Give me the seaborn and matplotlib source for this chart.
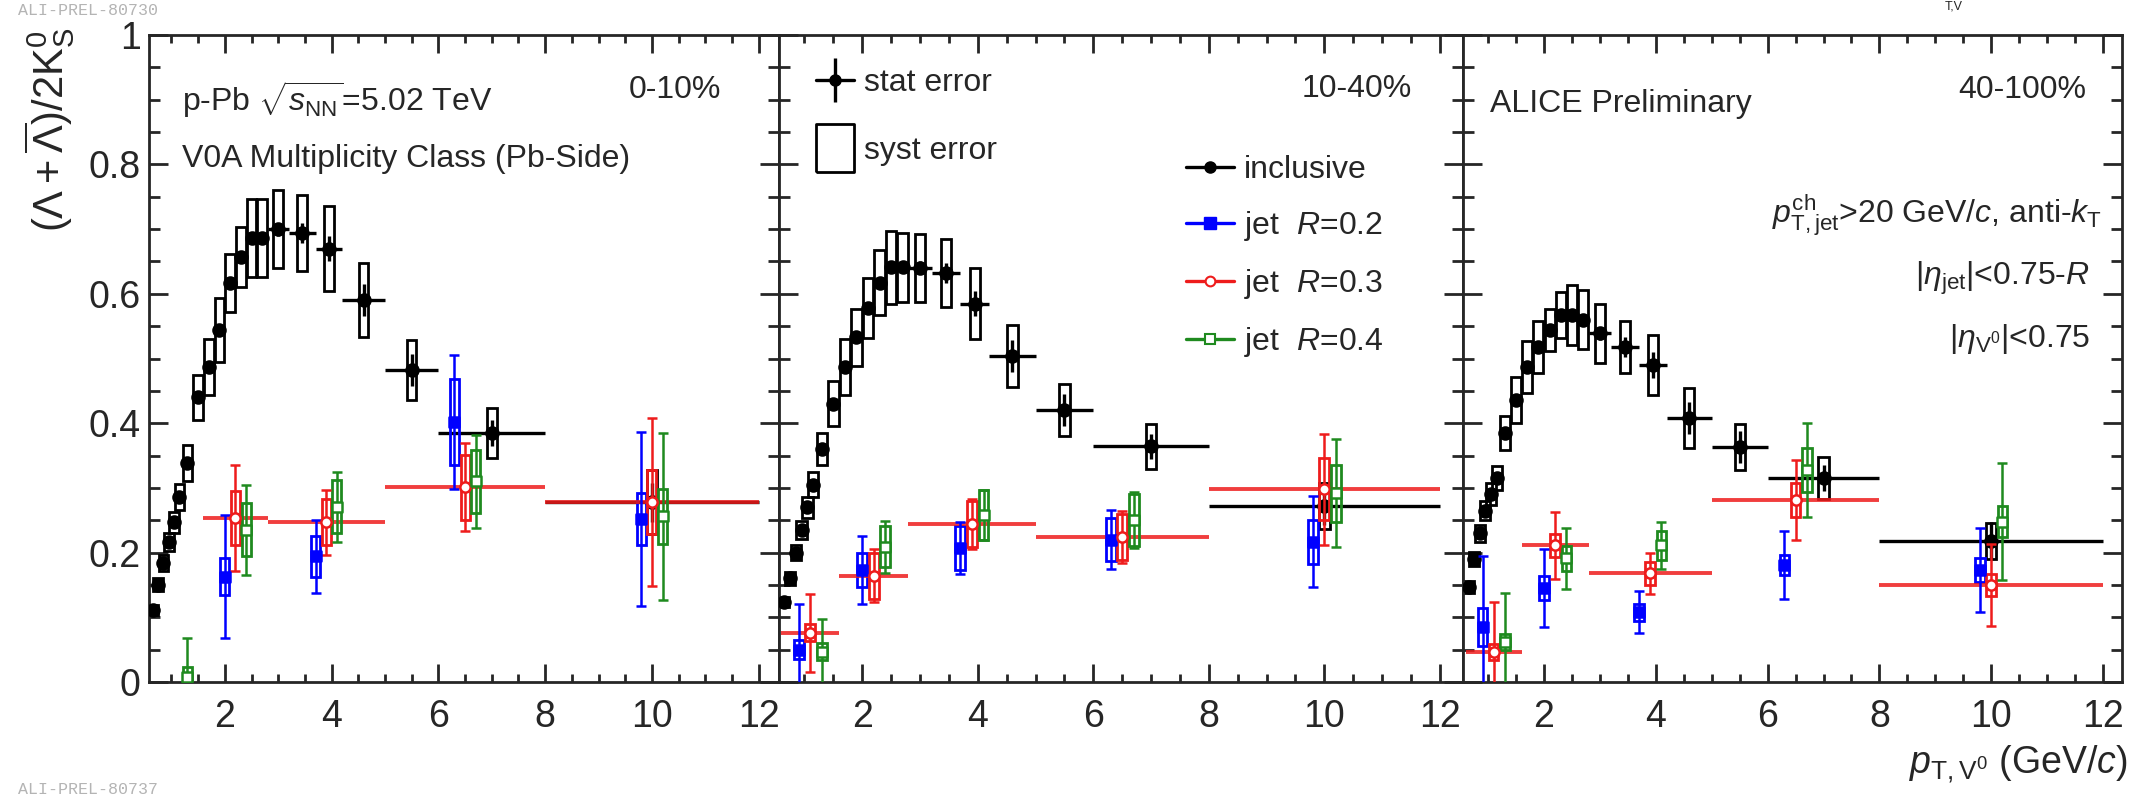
import numpy as np
import pandas as pd
import matplotlib
matplotlib.use('Agg')
import matplotlib.pyplot as plt
import seaborn as sns
from matplotlib.lines import Line2D
from matplotlib.legend_handler import HandlerTuple
from matplotlib.ticker import MultipleLocator, FuncFormatter

# ---- inclusive Lambda/K0s ratio, one list per multiplicity class ----
incl_pt = [0.65, 0.75, 0.85, 0.95, 1.05, 1.15, 1.3, 1.5, 1.7, 1.9, 2.1,
           2.3, 2.5, 2.7, 3.0, 3.45, 3.95, 4.6, 5.5, 7.0, 10.0]
incl_dpt = [0.05, 0.05, 0.05, 0.05, 0.05, 0.05, 0.1, 0.1, 0.1, 0.1, 0.1,
            0.1, 0.1, 0.1, 0.2, 0.25, 0.25, 0.4, 0.5, 1.0, 2.0]

incl_0_10 = [0.111, 0.150, 0.184, 0.216, 0.247, 0.286, 0.338, 0.440, 0.487, 0.544, 0.617,
             0.657, 0.686, 0.686, 0.700, 0.694, 0.670, 0.590, 0.482, 0.385, 0.278]
incl_0_10_stat = [0.003, 0.003, 0.003, 0.003, 0.003, 0.004, 0.004, 0.005, 0.005, 0.006, 0.006,
                  0.007, 0.007, 0.008, 0.010, 0.015, 0.020, 0.025, 0.025, 0.020, 0.030]
incl_0_10_syst = [0.008, 0.010, 0.012, 0.014, 0.016, 0.020, 0.028, 0.035, 0.043, 0.050, 0.045,
                  0.046, 0.060, 0.060, 0.060, 0.059, 0.066, 0.057, 0.046, 0.039, 0.050]

incl_10_40 = [0.124, 0.160, 0.200, 0.235, 0.270, 0.305, 0.360, 0.430, 0.487, 0.533, 0.578,
              0.617, 0.641, 0.641, 0.640, 0.632, 0.585, 0.504, 0.420, 0.364, 0.272]
incl_10_40_stat = [0.003, 0.003, 0.003, 0.003, 0.003, 0.004, 0.004, 0.005, 0.005, 0.006, 0.006,
                   0.007, 0.007, 0.008, 0.010, 0.015, 0.020, 0.025, 0.025, 0.020, 0.030]
incl_10_40_syst = [0.008, 0.010, 0.012, 0.014, 0.016, 0.019, 0.025, 0.035, 0.043, 0.044, 0.046,
                   0.050, 0.056, 0.053, 0.052, 0.052, 0.055, 0.048, 0.040, 0.035, 0.035]

incl_40_100 = [0.147, 0.190, 0.230, 0.265, 0.290, 0.315, 0.385, 0.436, 0.487, 0.518, 0.544,
               0.567, 0.567, 0.560, 0.539, 0.518, 0.490, 0.408, 0.363, 0.315, 0.218]
incl_40_100_stat = [0.003, 0.003, 0.003, 0.003, 0.003, 0.004, 0.004, 0.005, 0.005, 0.006, 0.006,
                    0.007, 0.007, 0.008, 0.010, 0.015, 0.020, 0.025, 0.025, 0.020, 0.030]
incl_40_100_syst = [0.009, 0.011, 0.013, 0.015, 0.017, 0.019, 0.026, 0.035, 0.040, 0.040, 0.032,
                    0.036, 0.046, 0.046, 0.046, 0.040, 0.046, 0.046, 0.036, 0.032, 0.028]

# ---- V0s in jets ----
jet_pt = [1.1, 2.2, 3.9, 6.5, 10.0]
jet_dpt = [0.5, 0.6, 1.1, 1.5, 2.0]
nan = np.nan

r02_0_10 = [nan, 0.163, 0.194, 0.402, 0.252]
r02_0_10_stat = [nan, 0.095, 0.056, 0.104, 0.135]
r02_0_10_syst = [nan, 0.029, 0.031, 0.067, 0.040]
r03_0_10 = [nan, 0.253, 0.247, 0.301, 0.278]
r03_0_10_stat = [nan, 0.082, 0.050, 0.068, 0.130]
r03_0_10_syst = [nan, 0.042, 0.036, 0.050, 0.049]
r04_0_10 = [0.008, 0.235, 0.271, 0.310, 0.256]
r04_0_10_stat = [0.060, 0.069, 0.054, 0.072, 0.129]
r04_0_10_syst = [0.015, 0.041, 0.041, 0.049, 0.042]

r02_10_40 = [0.050, 0.173, 0.207, 0.220, 0.217]
r02_10_40_stat = [0.070, 0.052, 0.040, 0.046, 0.070]
r02_10_40_syst = [0.015, 0.026, 0.034, 0.033, 0.034]
r03_10_40 = [0.076, 0.164, 0.244, 0.224, 0.298]
r03_10_40_stat = [0.060, 0.041, 0.039, 0.040, 0.086]
r03_10_40_syst = [0.013, 0.035, 0.036, 0.036, 0.048]
r04_10_40 = [0.047, 0.209, 0.258, 0.250, 0.292]
r04_10_40_stat = [0.050, 0.040, 0.038, 0.043, 0.083]
r04_10_40_syst = [0.013, 0.032, 0.039, 0.040, 0.044]

r02_40_100 = [0.085, 0.145, 0.108, 0.181, 0.173]
r02_40_100_stat = [0.110, 0.060, 0.033, 0.052, 0.065]
r02_40_100_syst = [0.030, 0.019, 0.013, 0.016, 0.018]
r03_40_100 = [0.046, 0.211, 0.168, 0.281, 0.150]
r03_40_100_stat = [0.077, 0.052, 0.032, 0.062, 0.063]
r03_40_100_syst = [0.012, 0.018, 0.018, 0.026, 0.017]
r04_40_100 = [0.062, 0.191, 0.211, 0.328, 0.248]
r04_40_100_stat = [0.075, 0.047, 0.037, 0.073, 0.090]
r04_40_100_syst = [0.012, 0.019, 0.023, 0.034, 0.024]

centralities = ['0-10%', '10-40%', '40-100%']

# ---- style ----
sns.set_style('ticks')
plt.rcParams['font.family'] = ['Liberation Sans', 'DejaVu Sans']
plt.rcParams['mathtext.fontset'] = 'custom'
plt.rcParams['mathtext.rm'] = 'Liberation Sans'
plt.rcParams['mathtext.it'] = 'Liberation Sans:italic'
plt.rcParams['mathtext.bf'] = 'Liberation Sans:bold'
plt.rcParams['mathtext.sf'] = 'Liberation Sans'

BLUE = '#0000ff'
RED = '#ee1c1c'
GREEN = '#1f8a1f'

W, H = 2132, 799
fig = plt.figure(figsize=(W / 100, H / 100), dpi=100)


def fx(px):
    return px / W


def fy(py):
    return 1 - py / H


# panel pixel extents (left, right) and common vertical extent
panel_px = [(149, 779), (779, 1463), (1463, 2122)]
top_px, bot_px = 35, 682
xlims = [(0.58, 12.38), (0.56, 12.40), (0.55, 12.34)]

incl_sets = [(incl_0_10, incl_0_10_stat, incl_0_10_syst),
             (incl_10_40, incl_10_40_stat, incl_10_40_syst),
             (incl_40_100, incl_40_100_stat, incl_40_100_syst)]
jet_sets = [
    {'0.2': (r02_0_10, r02_0_10_stat, r02_0_10_syst),
     '0.3': (r03_0_10, r03_0_10_stat, r03_0_10_syst),
     '0.4': (r04_0_10, r04_0_10_stat, r04_0_10_syst)},
    {'0.2': (r02_10_40, r02_10_40_stat, r02_10_40_syst),
     '0.3': (r03_10_40, r03_10_40_stat, r03_10_40_syst),
     '0.4': (r04_10_40, r04_10_40_stat, r04_10_40_syst)},
    {'0.2': (r02_40_100, r02_40_100_stat, r02_40_100_syst),
     '0.3': (r03_40_100, r03_40_100_stat, r03_40_100_syst),
     '0.4': (r04_40_100, r04_40_100_stat, r04_40_100_syst)},
]
jet_style = {'0.2': dict(color=BLUE, marker='s', fc=BLUE, shift=-0.2),
             '0.3': dict(color=RED, marker='o', fc='white', shift=0.0),
             '0.4': dict(color=GREEN, marker='s', fc='white', shift=0.2)}

axes = []
for i, (l, r) in enumerate(panel_px):
    ax = fig.add_axes([fx(l), 1 - bot_px / H, (r - l) / W, (bot_px - top_px) / H])
    axes.append(ax)
    vals, stat, syst = [np.array(a) for a in incl_sets[i]]
    pt = np.array(incl_pt)

    # inclusive: syst boxes, stat bars, markers
    ax.bar(pt, 2 * syst, bottom=vals - syst, width=0.18, fill=False,
           edgecolor='black', linewidth=2.0, zorder=2)
    ax.errorbar(pt, vals, xerr=incl_dpt, yerr=stat, fmt='none', ecolor='black',
                elinewidth=2.4, capsize=0, zorder=3)
    df_incl = pd.DataFrame({'pt': pt, 'ratio': vals})
    sns.scatterplot(data=df_incl, x='pt', y='ratio', ax=ax, color='black', marker='o',
                    s=110, linewidth=0, zorder=4, legend=False)

    # jets
    for R in ['0.2', '0.3', '0.4']:
        st = jet_style[R]
        jv, jstat, jsyst = [np.array(a) for a in jet_sets[i][R]]
        jx = np.array(jet_pt) + st['shift']
        ax.bar(jx, 2 * jsyst, bottom=jv - jsyst, width=0.17, fill=False,
               edgecolor=st['color'], linewidth=2.0, zorder=5)
        if R == '0.3':
            ax.errorbar(jx, jv, xerr=jet_dpt, fmt='none', ecolor=st['color'],
                        elinewidth=2.8, alpha=0.85, zorder=5)
        ax.errorbar(jx, jv, yerr=jstat, fmt='none', ecolor=st['color'],
                    elinewidth=1.8, capsize=3.5, capthick=1.8, zorder=6)
        df_jet = pd.DataFrame({'pt': jx, 'ratio': jv}).dropna()
        sns.scatterplot(data=df_jet, x='pt', y='ratio', ax=ax, marker=st['marker'],
                        s=55, facecolor=st['fc'], edgecolor=st['color'],
                        linewidth=1.8, zorder=7, legend=False)

    ax.set_xlim(*xlims[i])
    ax.set_ylim(0, 1)
    ax.set_xlabel('')
    ax.set_ylabel('')
    ax.xaxis.set_major_locator(MultipleLocator(2))
    ax.xaxis.set_minor_locator(MultipleLocator(0.5))
    ax.yaxis.set_major_locator(MultipleLocator(0.2))
    ax.yaxis.set_minor_locator(MultipleLocator(0.05))
    ax.xaxis.set_major_formatter(FuncFormatter(lambda v, p: f'{v:g}'))
    ax.yaxis.set_major_formatter(FuncFormatter(lambda v, p: f'{v:g}'))
    ax.tick_params(which='both', direction='in', top=True, right=True, width=2)
    ax.tick_params(axis='x', which='major', length=13, pad=12, labelsize=27)
    ax.tick_params(axis='x', which='minor', length=6)
    ax.tick_params(axis='y', which='major', length=14, pad=6, labelsize=27)
    ax.tick_params(axis='y', which='minor', length=8)
    if i > 0:
        ax.tick_params(labelleft=False)
    for sp in ax.spines.values():
        sp.set_linewidth(2)
        sp.set_visible(True)

ax1, ax2, ax3 = axes
fs = 23

# ---- annotations ----
fig.text(fx(182), fy(111), r'p-Pb $\sqrt{s_{\mathrm{NN}}}$=5.02 TeV', fontsize=fs, va='baseline')
fig.text(fx(182), fy(167), 'V0A Multiplicity Class (Pb-Side)', fontsize=fs, va='baseline')
fig.text(fx(721), fy(98), centralities[0], fontsize=fs, ha='right', va='baseline')
fig.text(fx(1412), fy(97), centralities[1], fontsize=fs, ha='right', va='baseline')
fig.text(fx(2086), fy(98), centralities[2], fontsize=fs, ha='right', va='baseline')
fig.text(fx(1490), fy(112), 'ALICE Preliminary', fontsize=fs, va='baseline')
fig.text(fx(2102), fy(223), r'$p_{\mathrm{T,jet}}^{\mathrm{ch}}$>20 GeV/$c$, anti-$k_{\mathrm{T}}$',
         fontsize=fs, ha='right', va='baseline')
fig.text(fx(2090), fy(285), r'|$\eta_{\mathrm{jet}}$|<0.75-$R$', fontsize=fs, ha='right', va='baseline')
fig.text(fx(2090), fy(347), r'|$\eta_{\mathrm{V^{0}}}$|<0.75', fontsize=fs, ha='right', va='baseline')

fig.text(fx(50), fy(130), r'$(\Lambda+\overline{\Lambda})/2\mathrm{K}^{0}_{\mathrm{S}}$',
         fontsize=30, rotation=90, ha='center', va='center')
fig.text(fx(2128), fy(773), r'$p_{\mathrm{T,V^{0}}}$ (GeV/$c$)', fontsize=27,
         ha='right', va='baseline')

fig.text(fx(18), fy(3), 'ALI-PREL-80730', fontsize=12, family='Liberation Mono',
         color='#b4b4b4', va='top')
fig.text(fx(18), fy(797), 'ALI-PREL-80737', fontsize=12, family='Liberation Mono',
         color='#b4b4b4', va='bottom')
fig.text(fx(1954), fy(0.5), 'T,V', fontsize=9, ha='center', va='top')

# ---- legends ----
stat_h = (Line2D([], [], color='black', lw=2.4),
          Line2D([], [], color='black', marker='|', ms=31, mew=2.4, ls='none'),
          Line2D([], [], color='black', marker='o', ms=8, ls='none'))
box_verts = [(-0.8, -1), (0.8, -1), (0.8, 1), (-0.8, 1), (-0.8, -1)]
syst_h = Line2D([], [], color='black', marker=box_verts, ms=35, mfc='none',
                mec='black', mew=2.0, ls='none')
leg1 = ax2.legend([stat_h, syst_h], ['stat error', 'syst error'],
                  handler_map={tuple: HandlerTuple(ndivide=1)},
                  loc='upper left', bbox_to_anchor=(fx(816), fy(68)),
                  bbox_transform=fig.transFigure, frameon=False, fontsize=fs,
                  handlelength=1.2, handletextpad=0.3, labelspacing=1.2,
                  borderpad=0, borderaxespad=0)
ax2.add_artist(leg1)

series_h = [Line2D([], [], color='black', lw=2.4, marker='o', ms=8),
            Line2D([], [], color=BLUE, lw=2.4, marker='s', ms=8),
            Line2D([], [], color=RED, lw=2.4, marker='o', ms=7, mfc='white', mew=1.5),
            Line2D([], [], color=GREEN, lw=2.4, marker='s', ms=7, mfc='white', mew=1.5)]
series_l = ['inclusive', r'jet  $R$=0.2', r'jet  $R$=0.3', r'jet  $R$=0.4']
ax2.legend(series_h, series_l, loc='upper left', bbox_to_anchor=(fx(1186), fy(155)),
           bbox_transform=fig.transFigure, frameon=False, fontsize=fs,
           handlelength=1.5, handletextpad=0.3, labelspacing=0.75,
           borderpad=0, borderaxespad=0)

fig.savefig('out.png', dpi=100)
